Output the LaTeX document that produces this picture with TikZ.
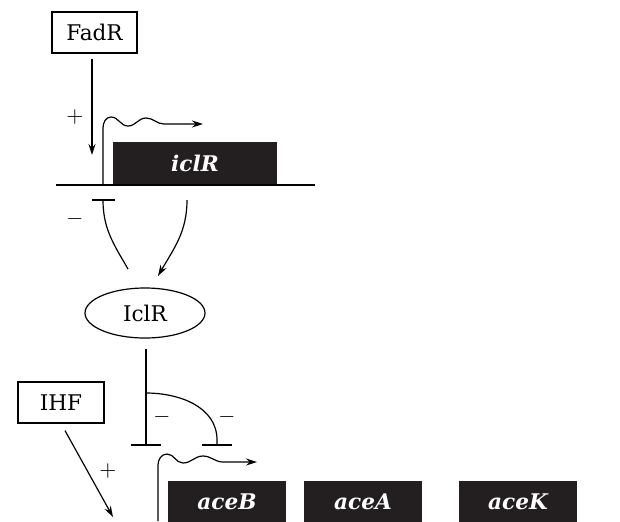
\documentclass[tikz,border=0pt]{standalone}
\usepackage{tikz}
\usepackage{fontspec}
\setmainfont{DejaVu Serif}
\usetikzlibrary{arrows.meta,shapes.geometric}
\definecolor{genefill}{HTML}{231F20}

\begin{document}
\begin{tikzpicture}[x=0.5pt,y=-0.5pt,line width=.6pt,
  every node/.style={font=\fontsize{10.8}{13}\selectfont},
  regbox/.style={draw,rectangle,inner sep=0pt,minimum height=20.5pt},
  gene/.style={fill=genefill,text=white,inner sep=0pt,minimum width=59pt,minimum height=21pt,
    font=\fontsize{10.8}{13}\selectfont\bfseries\itshape},
  act/.style={-{Stealth[length=5.5pt,width=3.5pt]}}]
\useasboundingbox (0,0) rectangle (620,521);
% regulators
\node[regbox,minimum width=42.5pt] (FadR) at (94.5,32.5) {FadR};
\node[regbox,minimum width=43pt] (IHF) at (61,402.5) {IHF};
\node[draw,ellipse,inner sep=0pt,minimum width=60pt,minimum height=25pt] (IclR) at (145,313) {IclR};
% genes
\draw (56,185) -- (315,185);
\node[gene,minimum width=82pt] (iclR) at (195,163) {iclR};
\node[gene] (aceB) at (227,502) {aceB};
\node[gene] (aceA) at (363,502) {aceA};
\node[gene] (aceK) at (518,502) {aceK};
\coordinate (p1) at (103,185);
\coordinate (p2) at (158,521);
\coordinate (fadrtip) at (92,155);
\coordinate (ihftip) at (113,517);
\coordinate (bar1) at (103,200);
\coordinate (iclrout) at (128,269);
\coordinate (geneout) at (187,200);
\coordinate (iclrin) at (158,276);
\coordinate (fork) at (146,393);
\coordinate (bar2) at (146,445);
\coordinate (bar3) at (217,445);
% promoters
\draw[act] (p1) -- ++(0,-57) to[out=90,in=180] ++(8,-11) to[out=0,in=180] ++(17,9)
  to[out=0,in=180] ++(18,-8) to[out=0,in=180] ++(18,6) -- ++(39,0);
\draw[act] (p2) -- ++(0,-56) to[out=90,in=180] ++(9,-11) to[out=0,in=180] ++(16,9)
  to[out=0,in=180] ++(20,-7) to[out=0,in=180] ++(20,6) -- ++(34,0);
% activation
\draw[act] ([shift={(-2.5,5)}]FadR.south) -- (fadrtip);
\node at (75,117) {$+$};
\draw[act] ([shift={(4,7)}]IHF.south) -- (ihftip);
\node at (108,471) {$+$};
% iclR loop
\draw (iclrout) to[out=120,in=270] (bar1);
\draw ([xshift=-5.5pt]bar1) -- ([xshift=6pt]bar1);
\node at (75,219) {$-$};
\draw[act] (geneout) to[out=270,in=60] (iclrin);
% repression of aceBAK
\draw ([shift={(1,10)}]IclR.south) -- (bar2);
\draw ([xshift=-7.5pt]bar2) -- ([xshift=7.5pt]bar2);
\draw (fork) to[out=0,in=90] (217,440) -- (bar3);
\draw ([xshift=-7.5pt]bar3) -- ([xshift=7.5pt]bar3);
\node at (162,417) {$-$};
\node at (227,417) {$-$};
\end{tikzpicture}
\end{document}
